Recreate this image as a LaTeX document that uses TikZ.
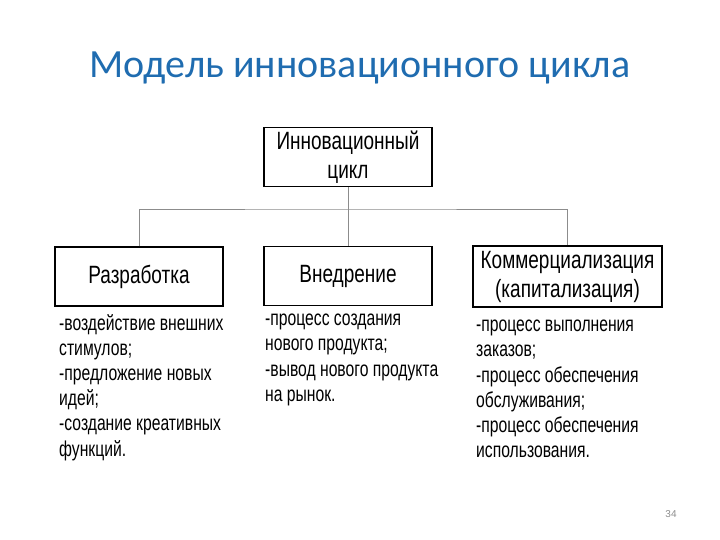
\documentclass[tikz,border=0pt]{standalone}
\usepackage{fontspec}
\setmainfont{Liberation Sans}
\newfontfamily\narrowfont[FakeStretch=0.76]{Liberation Sans}
\newfontfamily\notefont[FakeStretch=0.73]{Liberation Sans}
\newfontfamily\titlefont{Carlito}
\definecolor{titleblue}{RGB}{31,108,176}
\begin{document}
\begin{tikzpicture}[y=-1pt, x=1pt,
		box/.style={draw=black, line width=1.3pt, minimum width=168pt, minimum height=59pt, inner sep=0pt, align=center, font=\narrowfont\fontsize{25}{29}\selectfont},
		notes/.style={anchor=north west, inner sep=0pt, align=left, font=\notefont\fontsize{21.5}{25.2}\selectfont},
		link/.style={draw=black!45, line width=0.8pt}]
				\useasboundingbox (0,0) rectangle (720,540);
				
				\node[font=\titlefont\fontsize{40}{44}\selectfont, text=titleblue] (title) at (360,68) {Модель инновационного цикла};
				
				\node[box] (cycle) at (348,157) {Инновационный\\цикл};
				\node[box] (dev) at (139,276.5) {Разработка};
				\node[box] (impl) at (348,276) {Внедрение};
				\node[box, minimum width=189pt, minimum height=61pt] (comm) at (567.5,276.5) {Коммерциализация\\(капитализация)};
				
				\coordinate (split) at (348,209);
				\draw[link] (cycle.south) -- (split);
				\draw[link] (dev.north) |- (split) -| (comm.north);
				\draw[link] (split) -- (impl.north);
				
				\node[notes] (devnotes) at (59,314) {-воздействие внешних\\стимулов;\\-предложение новых\\идей;\\-создание креативных\\функций.};
				\node[notes] (implnotes) at (265,314) {-процесс создания\\нового продукта;\\-вывод нового продукта\\на рынок.};
				\node[notes] (commnotes) at (476,320) {-процесс выполнения\\заказов;\\-процесс обеспечения\\обслуживания;\\-процесс обеспечения\\использования.};
				
				\node[font=\fontsize{10}{12}\selectfont, text=black!45] (page) at (671,514) {34};
				
		\end{tikzpicture}
\end{document}
